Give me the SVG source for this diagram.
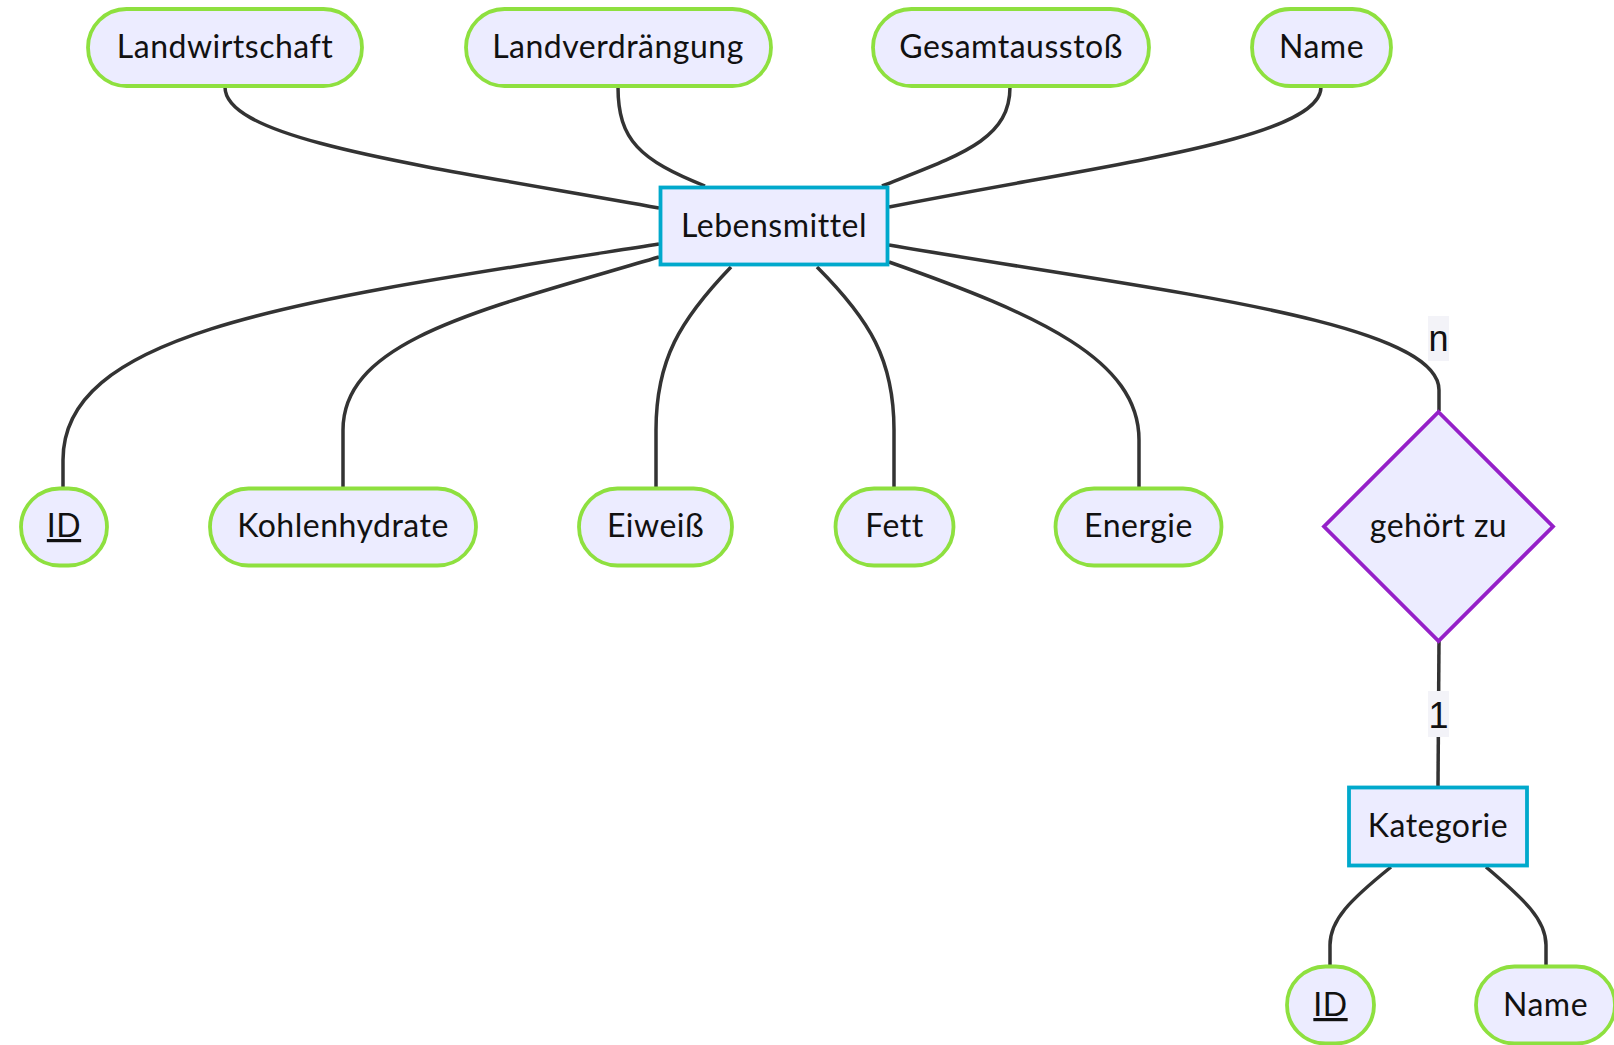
<svg xmlns="http://www.w3.org/2000/svg" width="1614" height="1045" viewBox="0 0 1614 1045">
<style>
.attr{fill:#ECECFF;stroke:#8ee03f;stroke-width:3.8}
.ent{fill:#ECECFF;stroke:#00a9cc;stroke-width:3.8}
.rel{fill:#ECECFF;stroke:#9520c8;stroke-width:3.8}
.lbl{font-family:Lato,"Open Sans","DejaVu Sans",sans-serif;font-size:32px;letter-spacing:0.5px;fill:#111;text-anchor:middle}
.card{font-family:"Liberation Sans",Arial,sans-serif;font-size:36px;fill:#111;text-anchor:middle}
.cardbg{fill:#f3f3f8}
#connectors path{fill:none;stroke:#333;stroke-width:3.5}
</style>
<rect width="1614" height="1045" fill="#ffffff"/>
<g id="connectors">
<path d="M225,87 C225,140 420,165 659,208"/>
<path d="M618,87 C618,140 640,160 705,186"/>
<path d="M1010,87 C1010,140 960,155 882,186"/>
<path d="M1321,87 C1321,140 1100,165 889,207"/>
<path d="M659,244 C300,300 63,330 63,460 L63,488"/>
<path d="M659,257 C480,310 343,340 343,430 L343,488"/>
<path d="M731,267 C680,320 656,360 656,430 L656,488"/>
<path d="M817,267 C870,320 894,360 894,430 L894,488"/>
<path d="M889,262 C1040,315 1139,360 1139,440 L1139,488"/>
<path d="M889,245 C1150,290 1439,320 1439,390 L1439,411"/>
<path d="M1439,641 L1438,786"/>
<path d="M1391,867 C1350,900 1330,920 1330,945 L1330,966"/>
<path d="M1486,867 C1525,900 1546,920 1546,945 L1546,966"/>
</g>
<g id="label-n">
<rect class="cardbg" x="1428" y="316" width="21" height="45"/>
<text class="card" x="1438.5" y="351">n</text>
</g>
<g id="label-1">
<rect class="cardbg" x="1428" y="691" width="21" height="46"/>
<text class="card" x="1438.5" y="728">1</text>
</g>
<g id="n-landwirtschaft">
<rect class="attr" x="88" y="9" width="274" height="77" rx="38.5"/>
<text class="lbl" x="225" y="58">Landwirtschaft</text>
</g>
<g id="n-landverdraengung">
<rect class="attr" x="466" y="9" width="305" height="77" rx="38.5"/>
<text class="lbl" x="618" y="58">Landverdrängung</text>
</g>
<g id="n-gesamtausstoss">
<rect class="attr" x="873" y="9" width="276" height="77" rx="38.5"/>
<text class="lbl" x="1011" y="58">Gesamtausstoß</text>
</g>
<g id="n-name">
<rect class="attr" x="1252" y="9" width="139" height="77" rx="38.5"/>
<text class="lbl" x="1321.5" y="58">Name</text>
</g>
<g id="n-lebensmittel">
<rect class="ent" x="660.5" y="187.5" width="227" height="77"/>
<text class="lbl" x="774" y="237">Lebensmittel</text>
</g>
<g id="n-id">
<rect class="attr" x="21" y="488.5" width="86" height="77" rx="38.5"/>
<text class="lbl" x="64" y="537" text-decoration="underline">ID</text>
</g>
<g id="n-kohlenhydrate">
<rect class="attr" x="210" y="488.5" width="266" height="77" rx="38.5"/>
<text class="lbl" x="343" y="537">Kohlenhydrate</text>
</g>
<g id="n-eiweiss">
<rect class="attr" x="579" y="488.5" width="153" height="77" rx="38.5"/>
<text class="lbl" x="655.5" y="537">Eiweiß</text>
</g>
<g id="n-fett">
<rect class="attr" x="835.5" y="488.5" width="118" height="77" rx="38.5"/>
<text class="lbl" x="894.5" y="537">Fett</text>
</g>
<g id="n-energie">
<rect class="attr" x="1055.5" y="488.5" width="166" height="77" rx="38.5"/>
<text class="lbl" x="1138.5" y="537">Energie</text>
</g>
<g id="n-gehoert-zu">
<polygon class="rel" points="1438.5,412 1553,526.5 1438.5,641 1324,526.5"/>
<text class="lbl" x="1438.5" y="537">gehört zu</text>
</g>
<g id="n-kategorie">
<rect class="ent" x="1349" y="787.5" width="178" height="78"/>
<text class="lbl" x="1438" y="837">Kategorie</text>
</g>
<g id="n-kat-id">
<rect class="attr" x="1287" y="966.5" width="87" height="77" rx="38.5"/>
<text class="lbl" x="1330.5" y="1016" text-decoration="underline">ID</text>
</g>
<g id="n-kat-name">
<rect class="attr" x="1476" y="966.5" width="139" height="77" rx="38.5"/>
<text class="lbl" x="1545.5" y="1016">Name</text>
</g>
</svg>
